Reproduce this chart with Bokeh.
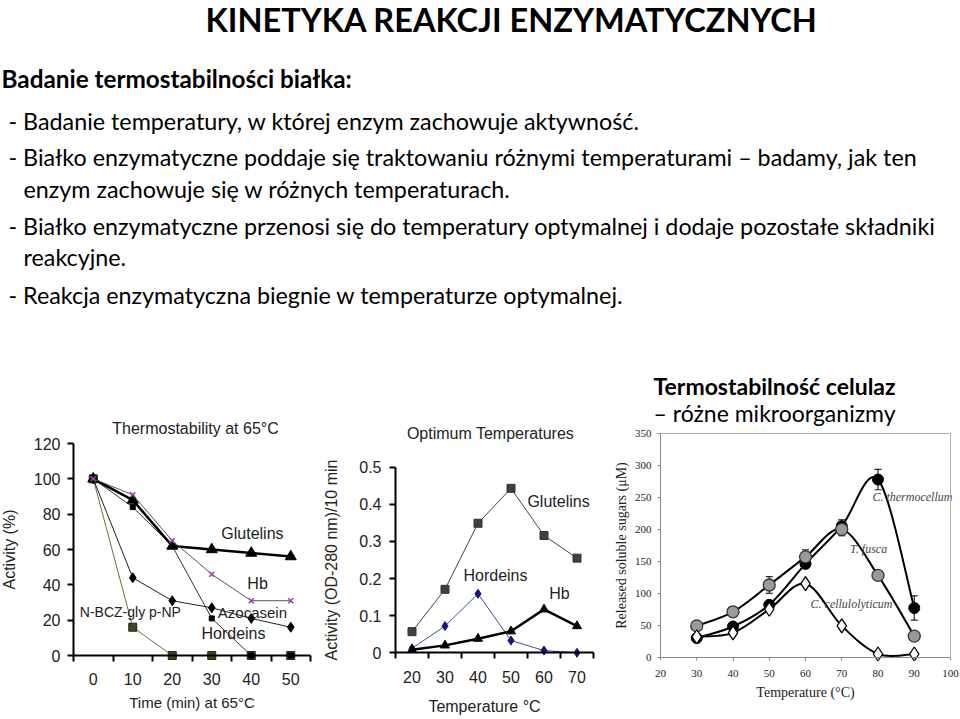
from bokeh.plotting import figure
from bokeh.models import (Range1d, LinearAxis, FixedTicker, Label, Whisker,
                          ColumnDataSource, NumeralTickFormatter, TeeHead)
from bokeh.layouts import column, row
from bokeh.core.properties import value
from bokeh.embed import file_html
from bokeh.resources import INLINE

# ---------------- header text ----------------
title_text = "KINETYKA REAKCJI ENZYMATYCZNYCH"
subtitle_text = "Badanie termostabilności białka:"
body_lines = [
    "- Badanie temperatury, w której enzym zachowuje aktywność.",
    "- Białko enzymatyczne poddaje się traktowaniu różnymi temperaturami – badamy, jak ten",
    "enzym zachowuje się w różnych temperaturach.",
    "- Białko enzymatyczne przenosi się do temperatury optymalnej i dodaje pozostałe składniki",
    "reakcyjne.",
    "- Reakcja enzymatyczna biegnie w temperaturze optymalnej.",
]
cell_head_bold = "Termostabilność celulaz"
cell_head_normal = "– różne mikroorganizmy"

# ---------------- chart 1: Thermostability at 65 C ----------------
c1_title = "Thermostability at 65°C"
c1_time = [0, 10, 20, 30, 40, 50]
c1_glutelins = [100, 88, 62, 60, 58, 56]
c1_hb = [100, 91, 65, 46, 31, 31]
c1_azocasein = [100, 44, 31, 27, 21, 16]
c1_hordeins = [100, 84, 62, 21, 0, 0]
c1_nbcz = [100, 16, 0, 0, 0, 0]
c1_yticks = [0, 20, 40, 60, 80, 100, 120]
c1_xsep = [-5, 5, 15, 25, 35, 45, 55]

# ---------------- chart 2: Optimum Temperatures ----------------
c2_title = "Optimum Temperatures"
c2_temp = [20, 30, 40, 50, 60, 70]
c2_glutelins = [0.057, 0.171, 0.349, 0.443, 0.316, 0.255]
c2_hordeins = [0.012, 0.072, 0.159, 0.033, 0.006, 0.0]
c2_hb = [0.008, 0.020, 0.038, 0.058, 0.117, 0.072]
c2_yticks = [0, 0.1, 0.2, 0.3, 0.4, 0.5]
c2_xsep = [15, 25, 35, 45, 55, 65, 75]

# ---------------- chart 3: cellulases ----------------
c3_temp = [30, 40, 50, 60, 70, 80, 90]
c3_thermo = [30, 48, 82, 146, 205, 278, 77]
c3_thermo_err = [4, 4, 5, 5, 10, 16, 19]
c3_fusca = [49, 71, 113, 157, 200, 128, 33]
c3_fusca_err = [3, 7, 13, 11, 10, 3, 3]
c3_cellulo = [32, 38, 75, 115, 49, 5, 5]
c3_cellulo_err = [3, 3, 3, 3, 4, 2, 2]
c3_xticks = [20, 30, 40, 50, 60, 70, 80, 90, 100]
c3_yticks = [0, 50, 100, 150, 200, 250, 300, 350]

SANS = "Liberation Sans"
SERIF = "Liberation Serif"
SLIDE = "Lato"
TXT = "#222222"
PAGE_W = 960
ROW_TOP, ROW_BOTTOM = 368, 719


def lin(v0, p0, v1, p1, p):
    """value at pixel p, given value v0 at pixel p0 and v1 at pixel p1"""
    return v0 + (p - p0) * (v1 - v0) / (p1 - p0)


def chart_fig(left, right, xa, ya):
    """Figure whose frame fills the whole canvas (page px left..right, ROW_TOP..ROW_BOTTOM)."""
    X = lambda px: lin(*xa, px)
    Y = lambda py: lin(*ya, py)
    p = figure(width=right - left, height=ROW_BOTTOM - ROW_TOP,
               x_range=Range1d(X(left), X(right)), y_range=Range1d(Y(ROW_BOTTOM), Y(ROW_TOP)),
               x_axis_location=None, y_axis_location=None, min_border=0,
               output_backend="svg", toolbar_location=None)
    p.outline_line_color = None
    p.grid.visible = False
    p.background_fill_color = "white"
    p.border_fill_color = "white"
    return p, X, Y


def style_axis(ax, font, size, color="black", lw=2, tick_out=6):
    ax.axis_line_color = color
    ax.axis_line_width = lw
    ax.major_tick_line_color = color
    ax.major_tick_line_width = lw
    ax.major_tick_out = tick_out
    ax.major_tick_in = 0
    ax.minor_tick_line_color = None
    ax.major_label_text_font = font
    ax.major_label_text_font_size = size
    ax.major_label_text_color = TXT
    ax.axis_label_text_font = font
    ax.axis_label_text_font_style = "normal"
    ax.axis_label_text_color = TXT


def category_xaxis(ax, sep_color="black"):
    ax.major_tick_line_color = None
    ax.major_tick_out = 0
    ax.minor_tick_line_color = sep_color
    ax.minor_tick_line_width = 2
    ax.minor_tick_out = 6
    ax.minor_tick_in = 0


# ================= top text figure =================
top = figure(width=PAGE_W, height=ROW_TOP, x_range=Range1d(0, PAGE_W),
             y_range=Range1d(ROW_TOP, 0), x_axis_location=None, y_axis_location=None,
             min_border=0, output_backend="svg", toolbar_location=None)
top.outline_line_color = None
top.grid.visible = False

top.text(x=[205], y=[19], text=[title_text], text_font=value(SLIDE),
         text_font_size="32.5px", text_font_style="bold", text_baseline="middle",
         text_color="black")
top.text(x=[1], y=[78], text=[subtitle_text], text_font=value(SLIDE),
         text_font_size="24.3px", text_font_style="bold", text_baseline="middle",
         text_color="black")
body_x = [8, 8, 23, 8, 23, 8]
body_y = [120, 156, 188, 225, 256, 294]
top.text(x=body_x, y=body_y, text=body_lines, text_font=value(SLIDE),
         text_font_size="23.3px", text_baseline="middle", text_color="black")

# ================= chart 1 =================
p1, X1, Y1 = chart_fig(0, 318, (-5, 73, 55, 310), (0, 655, 120, 443))

ya = LinearAxis(ticker=FixedTicker(ticks=c1_yticks), bounds=(0, 120), fixed_location=-5,
                axis_label="Activity (%)")
style_axis(ya, SANS, "16px")
ya.major_label_standoff = 7
ya.axis_label_standoff = 13
ya.axis_label_text_font_size = "16px"
p1.add_layout(ya, "left")

xa = LinearAxis(ticker=FixedTicker(ticks=c1_time, minor_ticks=c1_xsep), bounds=(-5, 55),
                fixed_location=0, axis_label="Time (min) at 65°C")
style_axis(xa, SANS, "16px")
category_xaxis(xa)
xa.major_label_standoff = 11
xa.axis_label_standoff = 6
xa.axis_label_text_font_size = "15px"
p1.add_layout(xa, "below")

p1.line(c1_time, c1_nbcz, line_color="#5a7a3a", line_width=1)
p1.scatter(c1_time, c1_nbcz, marker="square", size=8, fill_color="#45451f",
           line_color="#222222")
p1.line(c1_time, c1_hordeins, line_color="#333333", line_width=1)
p1.scatter(c1_time, c1_hordeins, marker="square", size=5, fill_color="black",
           line_color="black")
p1.line(c1_time, c1_azocasein, line_color="#222222", line_width=1)
p1.scatter(c1_time, c1_azocasein, marker="diamond", size=10, fill_color="black",
           line_color="black")
p1.line(c1_time, c1_glutelins, line_color="black", line_width=2.5)
p1.scatter(c1_time, c1_glutelins, marker="triangle", size=11, fill_color="black",
           line_color="black")
p1.line(c1_time, c1_hb, line_color="#555555", line_width=1)
p1.scatter(c1_time, c1_hb, marker="x", size=7, line_color="#a040a0", line_width=1.6)

p1.text(x=[40.3, 41.6, 40.3, 35.5, 9.4], y=[69, 41, 24.4, 12.5, 24.4],
        text=["Glutelins", "Hb", "Azocasein", "Hordeins", "N-BCZ-gly p-NP"],
        text_font=value(SANS), text_font_size=["16px", "16px", "15px", "16px", "14px"],
        text_align="center", text_baseline="middle", text_color=TXT)
p1.add_layout(Label(x=X1(195), y=Y1(428), text=c1_title, text_font=SANS,
                    text_font_size="16px", text_align="center", text_baseline="middle",
                    text_color=TXT))

# ================= chart 2 =================
p2, X2, Y2 = chart_fig(318, 612, (15, 395, 75, 593), (0, 652.3, 0.5, 466.7))

ya2 = LinearAxis(ticker=FixedTicker(ticks=c2_yticks), bounds=(0, 0.5), fixed_location=15,
                 axis_label="Activity (OD-280 nm)/10 min",
                 formatter=NumeralTickFormatter(format="0.[0]"))
style_axis(ya2, SANS, "16px")
ya2.major_label_standoff = 8
ya2.axis_label_standoff = 16
ya2.axis_label_text_font_size = "16px"
p2.add_layout(ya2, "left")

xa2 = LinearAxis(ticker=FixedTicker(ticks=c2_temp, minor_ticks=c2_xsep), bounds=(15, 75),
                 fixed_location=0)
style_axis(xa2, SANS, "16px")
category_xaxis(xa2)
xa2.major_label_standoff = 12
p2.add_layout(xa2, "below")
p2.add_layout(Label(x=X2(484), y=Y2(706), text="Temperature °C", text_font=SANS,
                    text_font_size="16px", text_align="center", text_baseline="middle",
                    text_color=TXT))

p2.line(c2_temp, c2_glutelins, line_color="#444444", line_width=1)
p2.scatter(c2_temp, c2_glutelins, marker="square", size=8, fill_color="#404040",
           line_color="#333333")
p2.line(c2_temp, c2_hordeins, line_color="#4a4a9a", line_width=1)
p2.scatter(c2_temp, c2_hordeins, marker="diamond", size=9, fill_color="#141480",
           line_color="#141480")
p2.line(c2_temp, c2_hb, line_color="black", line_width=2.5)
p2.scatter(c2_temp, c2_hb, marker="triangle", size=9, fill_color="black",
           line_color="black")

p2.text(x=[64.4, 45.3, 64.7], y=[0.408, 0.209, 0.161],
        text=["Glutelins", "Hordeins", "Hb"], text_font=value(SANS),
        text_font_size="16px", text_align="center", text_baseline="middle",
        text_color=TXT)
p2.add_layout(Label(x=X2(490), y=Y2(433), text=c2_title, text_font=SANS,
                    text_font_size="16px", text_align="center", text_baseline="middle",
                    text_color=TXT))

# ================= chart 3 =================
p3, X3, Y3 = chart_fig(612, PAGE_W, (20, 660, 100, 950), (0, 656.7, 350, 433))

GRAY = "#8a8a8a"
ya3 = LinearAxis(ticker=FixedTicker(ticks=c3_yticks), bounds=(0, 350), fixed_location=20,
                 axis_label="Released soluble sugars (μM)")
style_axis(ya3, SERIF, "11px", color=GRAY, lw=1, tick_out=3)
ya3.major_label_standoff = 6
ya3.axis_label_standoff = 3
ya3.axis_label_text_font_size = "14px"
p3.add_layout(ya3, "left")

xa3 = LinearAxis(ticker=FixedTicker(ticks=c3_xticks), bounds=(20, 100), fixed_location=0,
                 axis_label="Temperature (°C)")
style_axis(xa3, SERIF, "11px", color=GRAY, lw=1, tick_out=3)
xa3.major_label_standoff = 10
xa3.axis_label_standoff = 4
xa3.axis_label_text_font_size = "14px"
p3.add_layout(xa3, "below")

for loc, fixed, bnds in (("right", 100, (0, 350)), ("above", 350, (20, 100))):
    ax = LinearAxis(ticker=FixedTicker(ticks=[]), fixed_location=fixed, bounds=bnds)
    ax.axis_line_color = "#b0b0b0"
    ax.axis_line_width = 1
    ax.major_tick_line_color = None
    ax.minor_tick_line_color = None
    ax.major_label_text_font_size = "0px"
    p3.add_layout(ax, loc)


def smooth(xs, ys):
    n = len(xs)
    d = dict(x0=[], y0=[], x1=[], y1=[], cx0=[], cy0=[], cx1=[], cy1=[])
    for i in range(n - 1):
        ip = max(i - 1, 0)
        inn = min(i + 2, n - 1)
        d["x0"].append(xs[i]); d["y0"].append(ys[i])
        d["x1"].append(xs[i + 1]); d["y1"].append(ys[i + 1])
        d["cx0"].append(xs[i] + (xs[i + 1] - xs[ip]) / 6)
        d["cy0"].append(ys[i] + (ys[i + 1] - ys[ip]) / 6)
        d["cx1"].append(xs[i + 1] - (xs[inn] - xs[i]) / 6)
        d["cy1"].append(ys[i + 1] - (ys[inn] - ys[i]) / 6)
    return ColumnDataSource(d)


for ys, errs in ((c3_thermo, c3_thermo_err), (c3_fusca, c3_fusca_err),
                 (c3_cellulo, c3_cellulo_err)):
    src = ColumnDataSource(dict(x=c3_temp, lo=[a - b for a, b in zip(ys, errs)],
                                hi=[a + b for a, b in zip(ys, errs)]))
    w = Whisker(source=src, base="x", lower="lo", upper="hi", line_color="#222222",
                line_width=1.2, level="underlay",
                upper_head=TeeHead(size=7, line_color="#222222", line_width=1.2),
                lower_head=TeeHead(size=7, line_color="#222222", line_width=1.2))
    p3.add_layout(w)

for ys in (c3_cellulo, c3_fusca, c3_thermo):
    p3.bezier(x0="x0", y0="y0", x1="x1", y1="y1", cx0="cx0", cy0="cy0", cx1="cx1",
              cy1="cy1", source=smooth(c3_temp, ys), line_color="black", line_width=2)

p3.scatter(c3_temp, c3_thermo, marker="circle", size=11, fill_color="black",
           line_color="black")
p3.scatter(c3_temp, c3_fusca, marker="circle", size=12, fill_color="#9a9a9a",
           line_color="#333333", line_width=1.3)
p3.scatter(c3_temp, c3_cellulo, marker="diamond", size=14, fill_color="white",
           line_color="black", line_width=1.3)

p3.text(x=[89.5, 77.4, 72.7], y=[250, 170, 84],
        text=["C. thermocellum", "T. fusca", "C. cellulolyticum"],
        text_font=value(SERIF), text_font_size="12px", text_font_style="italic",
        text_align="center", text_baseline="middle", text_color="#444444")

p3.add_layout(Label(x=X3(653), y=Y3(385), text=cell_head_bold, text_font=SLIDE,
                    text_font_size="23px", text_font_style="bold",
                    text_baseline="middle", text_color="black"))
p3.add_layout(Label(x=X3(653), y=Y3(412), text=cell_head_normal, text_font=SLIDE,
                    text_font_size="23px", text_baseline="middle", text_color="black"))

layout = column(top, row(p1, p2, p3, spacing=0), spacing=0)
open("out.html", "w").write(file_html(layout, INLINE))
